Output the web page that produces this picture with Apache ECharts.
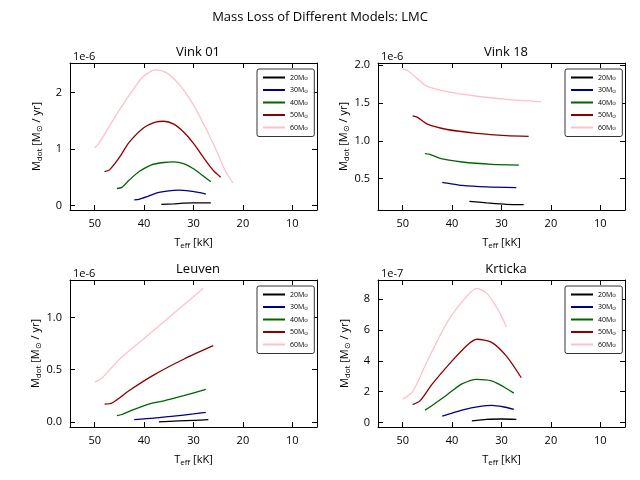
<!DOCTYPE html>
<html><head><meta charset="utf-8">
<script src="https://cdn.jsdelivr.net/npm/echarts@6/dist/echarts.min.js"></script>
<style>body{margin:0}#c{width:640px;height:480px}</style></head>
<body><div id="c"></div>
<script>
// model masses and colours
const masses = ['20', '30', '40', '50', '60'];
const colors = ['#000000', '#00008b', '#006400', '#8b0000', '#ffc0cb'];

// Vink 01 (1e-6)
const v01T = [
  [36.5, 34, 32, 30, 28, 26.5],
  [42, 41, 39, 37, 35, 33, 31, 29, 27.5],
  [45.5, 44.5, 43, 41, 38.5, 36, 34, 32, 30, 28, 26.5],
  [48, 47, 45, 43, 40, 37.5, 36, 34, 32, 30, 28, 26, 24.5],
  [50, 49, 46, 43, 40.5, 38.5, 37.5, 35.5, 33, 30.5, 28, 25.5, 23.5, 22]
];
const v01M = [
  [0.02, 0.03, 0.04, 0.045, 0.045, 0.045],
  [0.1, 0.11, 0.17, 0.23, 0.26, 0.27, 0.26, 0.23, 0.2],
  [0.3, 0.32, 0.45, 0.6, 0.72, 0.76, 0.77, 0.74, 0.65, 0.52, 0.42],
  [0.6, 0.63, 0.85, 1.12, 1.38, 1.48, 1.49, 1.44, 1.3, 1.1, 0.85, 0.62, 0.5],
  [1.02, 1.12, 1.55, 1.95, 2.25, 2.38, 2.4, 2.35, 2.15, 1.85, 1.45, 1.0, 0.6, 0.4]
];
// Vink 18 (1e-6)
const v18T = [
  [36.5, 33, 29, 25.5],
  [42, 41, 38, 33, 27],
  [45.5, 44.5, 42, 38, 32, 26.5],
  [48, 47, 45, 41, 35, 29, 24.5],
  [50, 49, 47, 45, 41, 35, 29, 22]
];
const v18M = [
  [0.2, 0.18, 0.16, 0.155],
  [0.45, 0.44, 0.41, 0.39, 0.38],
  [0.83, 0.82, 0.76, 0.72, 0.69, 0.68],
  [1.33, 1.31, 1.22, 1.15, 1.1, 1.07, 1.06],
  [1.95, 1.93, 1.82, 1.72, 1.65, 1.59, 1.55, 1.52]
];
// Leuven (1e-6)
const leuT = [
  [37, 33, 30, 27],
  [42, 38, 34, 30, 27.5],
  [45.5, 44.5, 42, 39, 36, 32, 27.5],
  [48, 46.5, 43, 38, 32, 26],
  [50, 48.5, 45, 40, 35, 30, 28]
];
const leuM = [
  [0.0, 0.008, 0.014, 0.02],
  [0.02, 0.035, 0.055, 0.075, 0.09],
  [0.06, 0.07, 0.12, 0.17, 0.2, 0.25, 0.31],
  [0.17, 0.18, 0.3, 0.45, 0.6, 0.73],
  [0.38, 0.42, 0.6, 0.8, 1.0, 1.2, 1.28]
];
// Krticka (1e-7)
const krtT = [
  [36, 33, 30, 27],
  [42, 41, 38, 34, 32, 29.5, 27.5],
  [45.5, 44.5, 41, 38, 35, 32, 29.5, 27.5],
  [48, 46.5, 44, 40, 37, 35, 32, 29, 26],
  [50, 48, 45, 41, 37, 35, 33, 30.5, 29]
];
const krtM = [
  [0.1, 0.2, 0.22, 0.2],
  [0.4, 0.5, 0.8, 1.05, 1.1, 1.0, 0.85],
  [0.8, 1.0, 1.8, 2.5, 2.8, 2.7, 2.3, 1.9],
  [1.15, 1.4, 2.5, 4.0, 5.0, 5.4, 5.2, 4.3, 2.9],
  [1.5, 2.0, 4.0, 6.5, 8.2, 8.7, 8.4, 7.2, 6.2]
];
const xTicks = [10, 20, 30, 40, 50];

const panels = [
  { title: 'Vink 01', T: v01T, M: v01M, min: -0.08, max: 2.52, ticks: [0, 1, 2], exp: '1e-6', left: 70, top: 63, fmt: v => v.toFixed(0) },
  { title: 'Vink 18', T: v18T, M: v18M, min: 0.085, max: 2.03, ticks: [0.5, 1.0, 1.5, 2.0], exp: '1e-6', left: 378, top: 63, fmt: v => v.toFixed(1) },
  { title: 'Leuven', T: leuT, M: leuM, min: -0.05, max: 1.36, ticks: [0, 0.5, 1.0], exp: '1e-6', left: 70, top: 280, fmt: v => v.toFixed(1) },
  { title: 'Krticka', T: krtT, M: krtM, min: -0.3, max: 9.25, ticks: [0, 2, 4, 6, 8], exp: '1e-7', left: 378, top: 280, fmt: v => v.toFixed(0) }
];

const font = 'Open Sans';
const rich = { s: { fontSize: 8, verticalAlign: 'bottom', padding: [6, 0, 0, 0], fontFamily: font, color: '#000' } };
const grid = [], xAxis = [], yAxis = [], series = [], legend = [], title = [{ text: 'Mass Loss of Different Models: LMC', left: 'center', top: 6, textStyle: { fontSize: 13, color: '#000', fontWeight: 'normal', fontFamily: font } }];
const lineAx = { show: true, onZero: false, lineStyle: { color: '#000', width: 1 } };

panels.forEach((p, i) => {
  grid.push({ left: p.left, top: p.top, width: 247, height: 147 });
  title.push({ text: p.title, left: p.left + 123, top: p.top - 22, textAlign: 'center', textStyle: { fontSize: 13, color: '#000', fontWeight: 'normal', fontFamily: font } });
  title.push({ text: p.exp, left: p.left - 2, top: p.top - 17, textStyle: { fontSize: 11, color: '#000', fontWeight: 'normal', fontFamily: font } });
  const base = { gridIndex: i, type: 'value', min: 5, max: 55, inverse: true, splitLine: { show: false }, axisLine: lineAx };
  xAxis.push(Object.assign({}, base, {
    position: 'bottom',
    axisTick: { inside: true, customValues: xTicks, lineStyle: { color: '#000' } },
    axisLabel: { customValues: xTicks, fontSize: 11, fontFamily: font, color: '#000', margin: 8 },
    name: 'T{s|eff} [kK]', nameLocation: 'middle', nameGap: 26,
    nameTextStyle: { fontSize: 11, fontFamily: font, color: '#000', rich: rich }
  }));
  xAxis.push(Object.assign({}, base, { position: 'top', axisTick: { inside: true, customValues: xTicks, lineStyle: { color: '#000' } }, axisLabel: { show: false } }));
  const ybase = { gridIndex: i, type: 'value', min: p.min, max: p.max, splitLine: { show: false }, axisLine: lineAx };
  yAxis.push(Object.assign({}, ybase, {
    position: 'left',
    axisTick: { inside: true, customValues: p.ticks, lineStyle: { color: '#000' } },
    axisLabel: { customValues: p.ticks, fontSize: 11, fontFamily: font, color: '#000', formatter: p.fmt },
    name: 'M{s|dot} [M{s|⊙} / yr]', nameLocation: 'middle', nameGap: 26, nameRotate: 90,
    nameTextStyle: { fontSize: 11, fontFamily: font, color: '#000', rich: rich }
  }));
  yAxis.push(Object.assign({}, ybase, { position: 'right', axisTick: { inside: true, customValues: p.ticks, lineStyle: { color: '#000' } }, axisLabel: { show: false } }));
  const names = [];
  masses.forEach((m, k) => {
    const name = m + 'M{s|⊙}' + '\u200b'.repeat(i);
    names.push(name);
    series.push({
      name: name, type: 'line', xAxisIndex: 2 * i, yAxisIndex: 2 * i, smooth: 0.25, showSymbol: false,
      lineStyle: { color: colors[k], width: 1.3 }, itemStyle: { color: colors[k] },
      data: p.T[k].map((t, j) => [t, p.M[k][j]])
    });
  });
  legend.push({
    data: names, orient: 'vertical', left: p.left + 187, top: p.top + 6, itemWidth: 22, itemHeight: 2, itemGap: 5,
    icon: 'rect', borderColor: '#000', borderWidth: 0.8, borderRadius: 2, padding: [5, 6], backgroundColor: '#fff',
    selectedMode: false, textStyle: { fontSize: 7, fontFamily: font, color: '#000', rich: { s: { fontSize: 5, verticalAlign: 'bottom', padding: [3, 0, 0, 0] } } }
  });
});

const chart = echarts.init(document.getElementById('c'));
chart.setOption({ animation: false, backgroundColor: '#fff', title, grid, xAxis, yAxis, series, legend });
</script></body></html>
